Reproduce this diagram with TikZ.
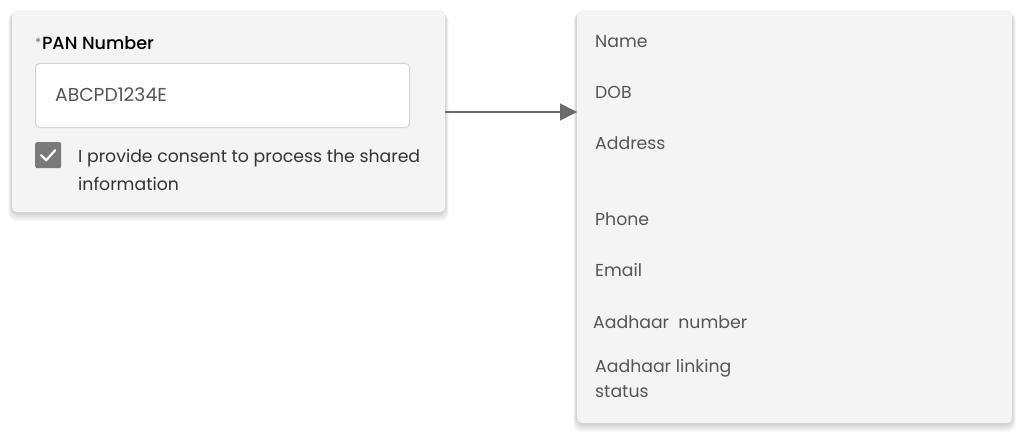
\documentclass[tikz,border=0pt]{standalone}
\usepackage{fontspec}
\setmainfont{Poppins}[BoldFont={Poppins Medium}]
\usetikzlibrary{arrows.meta}
\definecolor{cardbg}{HTML}{F4F4F4}
\definecolor{inborder}{HTML}{D4D4D4}
\definecolor{txtgray}{HTML}{555555}
\definecolor{txtdark}{HTML}{333333}
\definecolor{boxgray}{HTML}{7A7A7A}
\definecolor{arrowgray}{HTML}{6A6A6A}
\tikzset{
  card/.style={fill=cardbg, rounded corners=5pt},
  shadowlayer/.style={fill=black, fill opacity=0.03, rounded corners=8pt},
  lbl/.style={anchor=base west, inner sep=0pt, font=\fontsize{17.3}{20}\selectfont, text=txtgray},
}
\begin{document}
\begin{tikzpicture}[x=1pt,y=-1pt]
\useasboundingbox (0,0) rectangle (1024,441);
\fill[white] (0,0) rectangle (1024,441);
% shadows
\foreach \d in {1,2,3,4,5,6}{
  \fill[shadowlayer] (12-\d*0.6,10+\d*0.5) rectangle (445+\d*0.6,212+\d*1.5);
  \fill[shadowlayer] (577-\d*0.6,10+\d*0.5) rectangle (1012+\d*0.6,423+\d*1.5);
}
% cards
\node[card, minimum width=433pt, minimum height=202pt, inner sep=0pt, anchor=north west] (left) at (12,10) {};
\node[card, minimum width=435pt, minimum height=413pt, inner sep=0pt, anchor=north west] (right) at (577,10) {};
% input
\node[draw=inborder, fill=white, rounded corners=4pt, line width=1pt, minimum width=374pt, minimum height=64pt, inner sep=0pt, anchor=north west] (input) at (35,63) {};
\node[lbl, text=black] (panlbl) at (35,50) {{\color{boxgray}\fontsize{13}{12}\selectfont\raisebox{2.5pt}{*}}\kern0.5pt\textbf{\fontsize{17.6}{20}\selectfont PAN Number}};
\node[lbl, font=\fontsize{18.7}{20}\selectfont] (panval) at (55,102) {ABCPD1234E};
% checkbox
\node[fill=boxgray, rounded corners=2pt, minimum size=26pt, inner sep=0pt, anchor=north west] (chk) at (35,142) {};
\draw[white, line width=2.2pt, line cap=round, line join=round] ([xshift=-7pt,yshift=0pt]chk.center) -- ([xshift=-2pt,yshift=-5pt]chk.center) -- ([xshift=7pt,yshift=5pt]chk.center);
\node[lbl, text=txtdark] (consent1) at (78,162) {I provide consent to process the shared};
\node[lbl, text=txtdark] (consent2) at (78,190) {information};
% arrow
\coordinate (astart) at (445,112);
\coordinate (aend) at (577,112);
\draw[arrowgray, line width=1.3pt, -{Triangle[length=17pt,width=17pt]}] (astart) -- (aend);
% right list
\node[lbl] (name) at (595,48) {Name};
\node[lbl] (dob) at (595,99) {DOB};
\node[lbl] (addr) at (595,149) {Address};
\node[lbl] (phone) at (595,225) {Phone};
\node[lbl] (email) at (595,276) {Email};
\node[lbl] (aadnum) at (593,328) {Aadhaar\ \ number};
\node[lbl] (aadlink1) at (595,372) {Aadhaar linking};
\node[lbl] (aadlink2) at (595,397) {status};
\end{tikzpicture}
\end{document}
